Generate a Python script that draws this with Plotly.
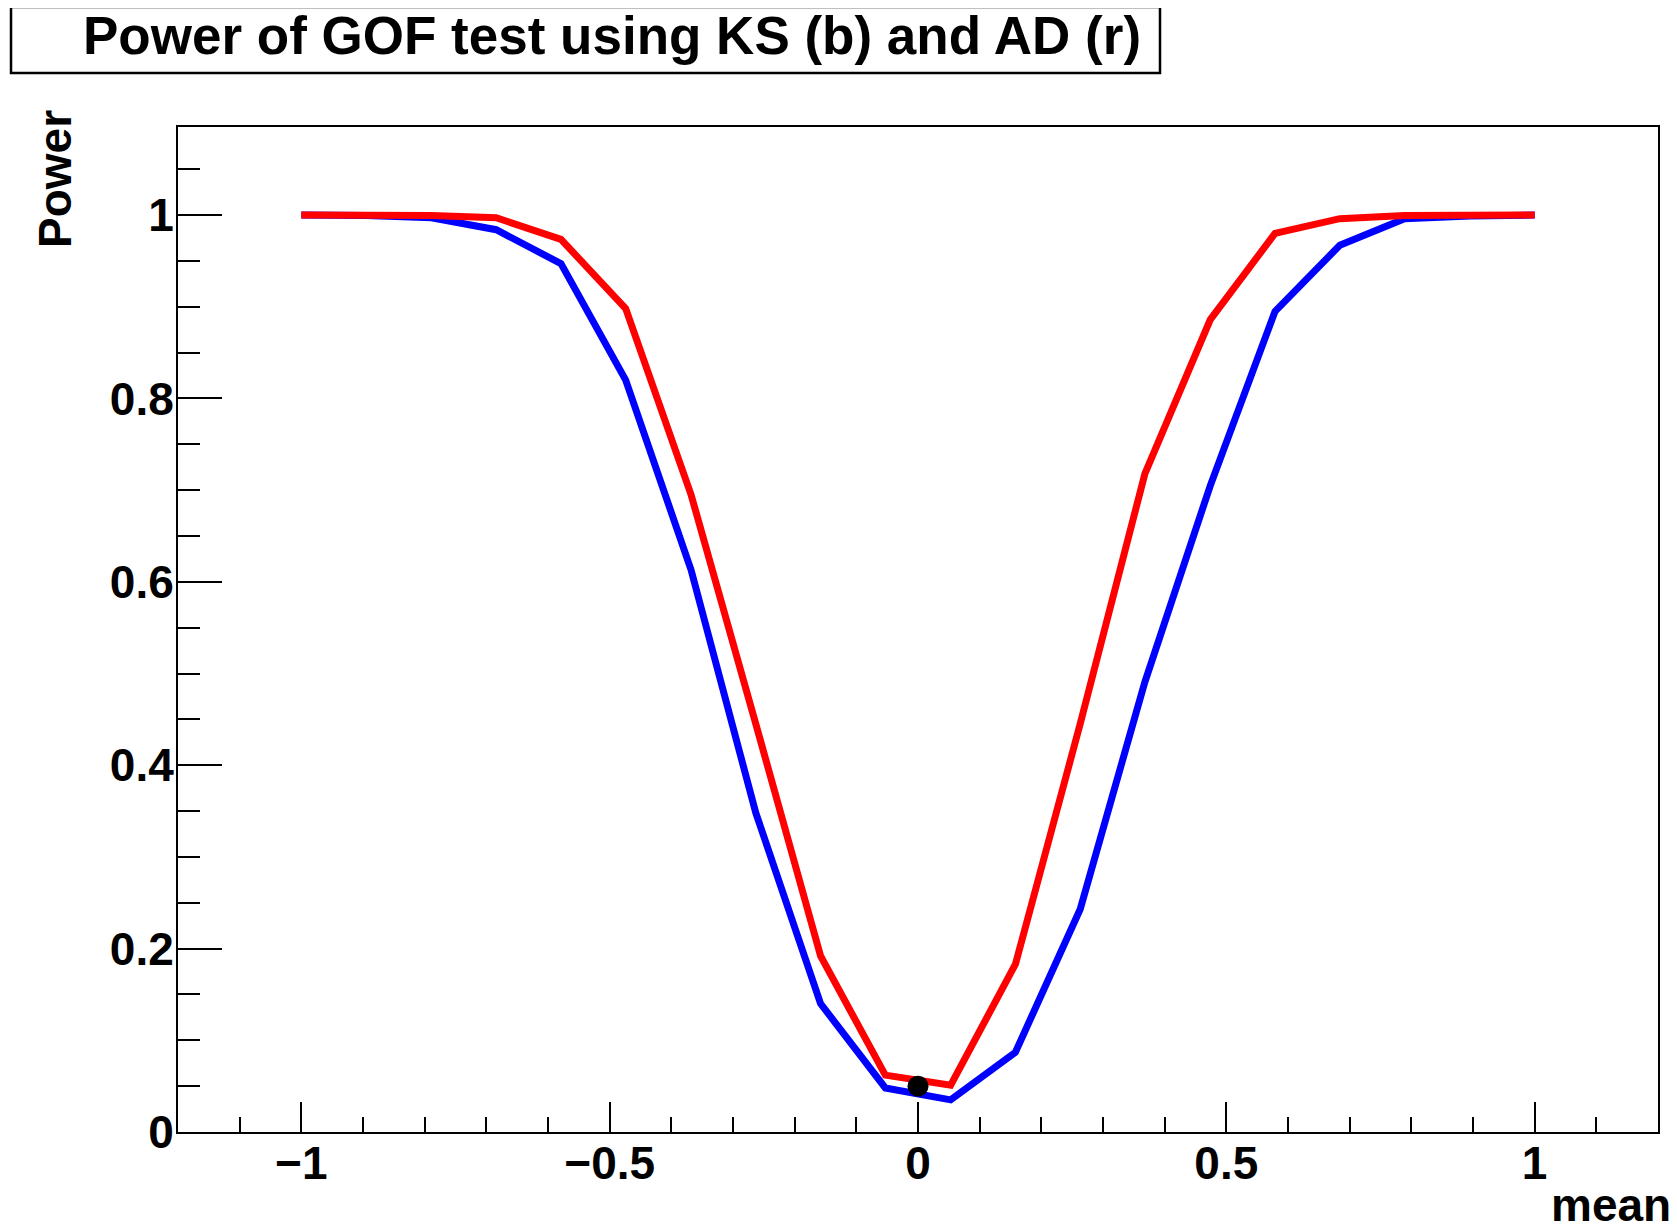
import plotly.graph_objects as go

# ---- data ----
mean_vals = [-1.0, -0.895, -0.789, -0.684, -0.579, -0.474, -0.368, -0.263, -0.158, -0.053,
             0.053, 0.158, 0.263, 0.368, 0.474, 0.579, 0.684, 0.789, 0.895, 1.0]
power_ks = [1.0, 0.9995, 0.997, 0.984, 0.947, 0.820, 0.613, 0.348, 0.140, 0.048,
            0.035, 0.087, 0.243, 0.491, 0.705, 0.895, 0.967, 0.996, 0.999, 1.0]
power_ad = [1.0, 1.0, 0.9995, 0.997, 0.9735, 0.898, 0.695, 0.445, 0.192, 0.062,
            0.051, 0.183, 0.445, 0.718, 0.886, 0.980, 0.996, 0.9995, 1.0, 1.0]
ref_x = [0.0]
ref_y = [0.05]

title_text = "Power of GOF test using KS (b) and AD (r)"
x_title = "mean"
y_title = "Power"

# ---- layout geometry (page pixels; the page body has an 8px margin) ----
OFF = 8
W, H = 1677 - OFF, 1227 - OFF
PL, PR, PT, PB = 178, 1658, 127, 1132  # plot frame in page pixels
L, T = PL - OFF, PT - OFF
R, B = W - (PR - OFF), H - (PB - OFF)
PW = PR - PL
PH = PB - PT


def px(xpix):
    return (xpix - PL) / PW


def py(ypix):
    return (PB - ypix) / PH


FONT = "Liberation Sans, Arial, Helvetica, sans-serif"

fig = go.Figure()
fig.add_trace(go.Scatter(x=mean_vals, y=power_ks, mode="lines",
                         line=dict(color="#0000ff", width=7), showlegend=False))
fig.add_trace(go.Scatter(x=mean_vals, y=power_ad, mode="lines",
                         line=dict(color="#ff0000", width=7), showlegend=False))
fig.add_trace(go.Scatter(x=ref_x, y=ref_y, mode="markers",
                         marker=dict(color="black", size=21), showlegend=False))

axis_common = dict(
    showgrid=False, zeroline=False, showline=True, linecolor="black", linewidth=2,
    mirror=True, ticks="inside", tickcolor="black", tickwidth=2,
    tickfont=dict(family=FONT, size=46, color="black", weight="bold"),
)

fig.update_xaxes(range=[-1.2, 1.2], tick0=0, dtick=0.5, ticklen=30,
                 ticklabelstandoff=-10,
                 minor=dict(dtick=0.1, tick0=0, ticklen=15, ticks="inside",
                            tickcolor="black", tickwidth=2),
                 **axis_common)
fig.update_yaxes(range=[0, 1.096], tick0=0, dtick=0.2, ticklen=44,
                 ticklabelstandoff=-7,
                 minor=dict(dtick=0.05, tick0=0, ticklen=22, ticks="inside",
                            tickcolor="black", tickwidth=2),
                 **axis_common)

fig.update_layout(
    width=W, height=H,
    margin=dict(l=L, r=R, t=T, b=B, autoexpand=False),
    plot_bgcolor="white", paper_bgcolor="white",
    shapes=[dict(type="rect", xref="paper", yref="paper",
                 x0=px(11), x1=px(1160), y0=py(73), y1=py(7),
                 line=dict(color="black", width=2.5), fillcolor="rgba(0,0,0,0)")],
    annotations=[
        dict(text=title_text, xref="paper", yref="paper", x=px(81), y=py(35),
             xanchor="left", yanchor="middle", showarrow=False,
             font=dict(family=FONT, size=53, color="black", weight="bold")),
        dict(text=x_title, xref="paper", yref="paper", x=px(1673), y=py(1205),
             xanchor="right", yanchor="middle", showarrow=False,
             font=dict(family=FONT, size=46, color="black", weight="bold")),
        dict(text=y_title, xref="paper", yref="paper", x=px(55), y=py(108),
             xanchor="center", yanchor="top", textangle=-90, showarrow=False,
             font=dict(family=FONT, size=46, color="black", weight="bold")),
    ],
)

fig.write_html("out.html")
